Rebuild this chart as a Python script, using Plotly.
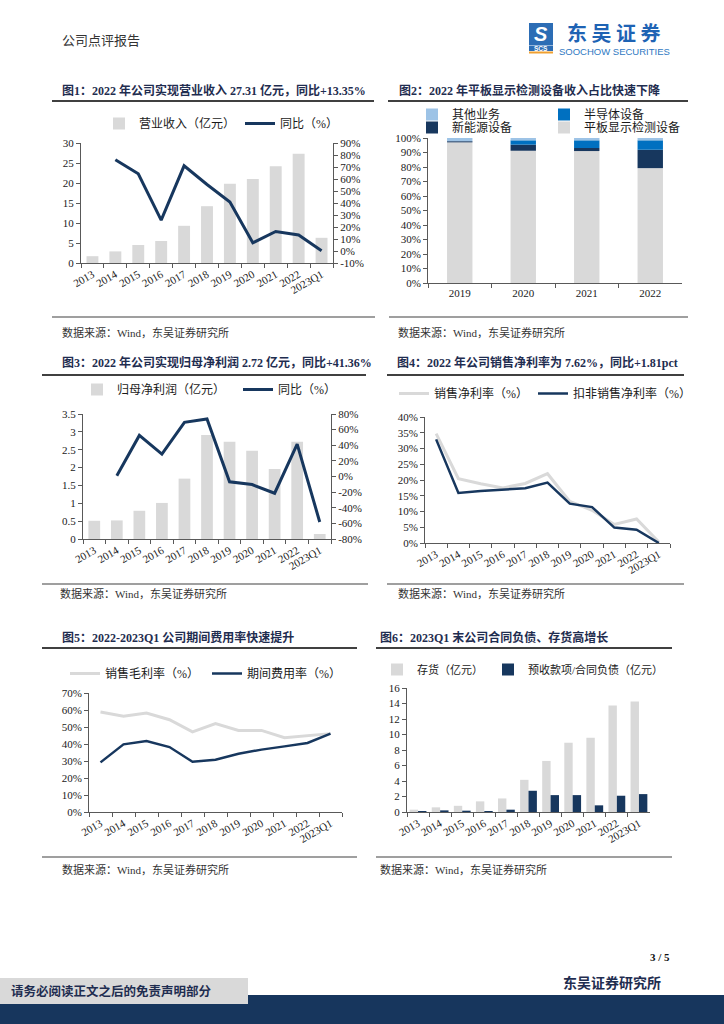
import numpy as np
import plotly.graph_objects as go

W, H = 724, 1024


def fx(px):
    return px / W


def fy(py):
    return 1 - py / H


# ---------------- data ----------------
years11 = ["2013", "2014", "2015", "2016", "2017", "2018", "2019", "2020", "2021", "2022", "2023Q1"]
years4 = ["2019", "2020", "2021", "2022"]

revenue = [1.7, 2.9, 4.5, 5.5, 9.3, 14.2, 19.8, 21.0, 24.2, 27.31, 6.3]
revenue_yoy = [None, 76.0, 64.3, 25.7, 71.0, 55.4, 40.8, 6.8, 16.3, 13.35, 0.3]

share_flat = [97.0, 91.2, 91.0, 79.2]
share_newenergy = [0.8, 4.2, 2.1, 12.7]
share_semi = [0.0, 3.0, 5.3, 6.5]
share_other = [2.2, 1.6, 1.6, 1.6]

net_profit = [0.51, 0.52, 0.79, 1.01, 1.69, 2.91, 2.72, 2.47, 1.96, 2.72, 0.14]
net_profit_yoy = [None, 0.9, 52.6, 28.7, 69.3, 73.6, -6.8, -10.3, -21.4, 41.36, -58.2]

net_margin = [34.7, 20.4, 18.8, 17.5, 18.9, 22.0, 13.2, 10.4, 5.9, 7.62, 0.3]
net_margin_adj = [32.9, 15.9, 16.5, 16.9, 17.4, 19.2, 12.5, 11.4, 4.9, 4.2, 0.0]

gross_margin = [58.8, 56.3, 58.2, 54.3, 47.1, 52.0, 48.0, 48.0, 43.7, 45.1, 46.1]
expense_ratio = [29.2, 39.8, 41.8, 38.2, 29.6, 30.8, 34.3, 36.7, 38.6, 40.6, 46.1]

inventory = [0.3, 0.6, 0.8, 1.37, 1.75, 4.15, 6.59, 8.94, 9.58, 13.73, 14.25]
contract_liab = [0.13, 0.21, 0.17, 0.13, 0.3, 2.74, 2.18, 2.18, 0.86, 2.1, 2.31]

# tick labels
rev_ticks = [0, 5, 10, 15, 20, 25, 30]
rev_yoy_ticks = [-10, 0, 10, 20, 30, 40, 50, 60, 70, 80, 90]
rev_yoy_text = ["-10%", "0%", "10%", "20%", "30%", "40%", "50%", "60%", "70%", "80%", "90%"]
share_ticks = [0, 10, 20, 30, 40, 50, 60, 70, 80, 90, 100]
share_text = ["0%", "10%", "20%", "30%", "40%", "50%", "60%", "70%", "80%", "90%", "100%"]
np_ticks = [0, 0.5, 1, 1.5, 2, 2.5, 3, 3.5]
np_text = ["0", "0.5", "1", "1.5", "2", "2.5", "3", "3.5"]
np_yoy_ticks = [-80, -60, -40, -20, 0, 20, 40, 60, 80]
np_yoy_text = ["-80%", "-60%", "-40%", "-20%", "0%", "20%", "40%", "60%", "80%"]
margin_ticks = [0, 5, 10, 15, 20, 25, 30, 35, 40]
margin_text = ["0%", "5%", "10%", "15%", "20%", "25%", "30%", "35%", "40%"]
gm_ticks = [0, 10, 20, 30, 40, 50, 60, 70]
gm_text = ["0%", "10%", "20%", "30%", "40%", "50%", "60%", "70%"]
inv_ticks = [0, 2, 4, 6, 8, 10, 12, 14, 16]

# ---------------- style ----------------
SERIF = "Liberation Serif, Noto Sans CJK SC"
GRAY = "#D9D9D9"
NAVY = "#17375E"
BLUE = "#0070C0"
LBLUE = "#9DC3E6"
AXC = "#595959"
TXT = "#1a1a1a"
TITLE_C = "#1F2D50"

AX = dict(showline=True, linecolor=AXC, linewidth=1, ticks="outside", ticklen=4,
          tickcolor=AXC, tickwidth=1, showgrid=False, zeroline=False, fixedrange=True,
          tickfont=dict(family=SERIF, size=11, color=TXT))

fig = go.Figure()

# ---- chart 1 ----
fig.add_trace(go.Bar(x=years11, y=revenue, width=0.52, marker=dict(color=GRAY, line=dict(width=0)),
                     name="营业收入（亿元）", xaxis="x", yaxis="y", legend="legend", legendwidth=96))
fig.add_trace(go.Scatter(x=years11, y=revenue_yoy, mode="lines", line=dict(color=NAVY, width=3),
                         name="同比（%）", xaxis="x", yaxis="y2", legend="legend", legendwidth=70))

# ---- chart 2 (stacked shares) ----
layers = [("平板显示检测设备", share_flat, GRAY, "legend3", 100),
          ("新能源设备", share_newenergy, NAVY, "legend3", 87),
          ("半导体设备", share_semi, BLUE, "legend2", 70),
          ("其他业务", share_other, LBLUE, "legend2", 87)]
base = np.zeros(len(years4))
for name, vals, col, lg, lw in layers:
    fig.add_trace(go.Bar(x=years4, y=vals, base=base.copy(), width=0.4,
                         marker=dict(color=col, line=dict(width=0)), name=name,
                         xaxis="x2", yaxis="y3", legend=lg, legendwidth=lw))
    base = base + np.array(vals)

# ---- chart 3 ----
fig.add_trace(go.Bar(x=years11, y=net_profit, width=0.52, marker=dict(color=GRAY, line=dict(width=0)),
                     name="归母净利润（亿元）", xaxis="x3", yaxis="y4", legend="legend4", legendwidth=116))
fig.add_trace(go.Scatter(x=years11, y=net_profit_yoy, mode="lines", line=dict(color=NAVY, width=3),
                         name="同比（%）", xaxis="x3", yaxis="y5", legend="legend4", legendwidth=70))

# ---- chart 4 ----
fig.add_trace(go.Scatter(x=years11, y=net_margin, mode="lines", line=dict(color=GRAY, width=3),
                         name="销售净利率（%）", xaxis="x4", yaxis="y6", legend="legend5", legendwidth=94))
fig.add_trace(go.Scatter(x=years11, y=net_margin_adj, mode="lines", line=dict(color=NAVY, width=2.5),
                         name="扣非销售净利率（%）", xaxis="x4", yaxis="y6", legend="legend5", legendwidth=122))

# ---- chart 5 ----
fig.add_trace(go.Scatter(x=years11, y=gross_margin, mode="lines", line=dict(color=GRAY, width=3),
                         name="销售毛利率（%）", xaxis="x5", yaxis="y7", legend="legend6", legendwidth=97))
fig.add_trace(go.Scatter(x=years11, y=expense_ratio, mode="lines", line=dict(color=NAVY, width=2.5),
                         name="期间费用率（%）", xaxis="x5", yaxis="y7", legend="legend6", legendwidth=100))

# ---- chart 6 ----
fig.add_trace(go.Bar(x=years11, y=inventory, width=0.38, offset=-0.38,
                     marker=dict(color=GRAY, line=dict(width=0)), name="存货（亿元）",
                     xaxis="x6", yaxis="y8", legend="legend7", legendwidth=66))
fig.add_trace(go.Bar(x=years11, y=contract_liab, width=0.38, offset=0.0,
                     marker=dict(color=NAVY, line=dict(width=0)), name="预收款项/合同负债（亿元）",
                     xaxis="x6", yaxis="y8", legend="legend7", legendwidth=132))


def xcat(x0, x1, anchor, n, angle=-30):
    d = dict(AX)
    d.update(domain=[fx(x0), fx(x1)], anchor=anchor, type="category", tickson="boundaries",
             tickangle=angle, range=[-0.5, n - 0.5])
    return d


def ylin(y_top, y_bot, anchor, rng, tv, tt=None, **kw):
    d = dict(AX)
    d.update(domain=[fy(y_bot), fy(y_top)], anchor=anchor, range=rng, tickmode="array",
             tickvals=tv, ticktext=tt if tt is not None else [str(v) for v in tv])
    d.update(kw)
    return d


def legend_cfg(sym_x, y_px, size=12, order="normal"):
    return dict(x=fx(sym_x - 20), y=fy(y_px + 0.5), xanchor="left", yanchor="middle", orientation="h",
                bgcolor="rgba(0,0,0,0)", font=dict(family=SERIF, size=size, color=TXT),
                traceorder=order, itemclick=False, itemdoubleclick=False)


fig.update_layout(
    width=W, height=H, autosize=False, margin=dict(l=0, r=0, t=0, b=0, pad=0, autoexpand=False),
    paper_bgcolor="white", plot_bgcolor="white", barmode="overlay", showlegend=True,
    font=dict(family=SERIF, size=11, color=TXT), hovermode=False,
    # chart 1
    xaxis=xcat(81, 333, "y", 11),
    yaxis=ylin(143, 263, "x", [0, 30], rev_ticks),
    yaxis2=ylin(143, 263, "x", [-10, 90], rev_yoy_ticks, rev_yoy_text, overlaying="y", side="right"),
    # chart 2
    xaxis2=xcat(428, 682, "y3", 4, angle=0),
    yaxis3=ylin(138, 283, "x2", [0, 100], share_ticks, share_text),
    # chart 3
    xaxis3=xcat(83, 331, "y4", 11),
    yaxis4=ylin(414, 539, "x3", [0, 3.5], np_ticks, np_text),
    yaxis5=ylin(414, 539, "x3", [-80, 80], np_yoy_ticks, np_yoy_text, overlaying="y4", side="right"),
    # chart 4
    xaxis4=xcat(425, 670, "y6", 11),
    yaxis6=ylin(417, 543, "x4", [0, 40], margin_ticks, margin_text),
    # chart 5
    xaxis5=xcat(89, 342, "y7", 11),
    yaxis7=ylin(693, 812, "x5", [0, 70], gm_ticks, gm_text),
    # chart 6
    xaxis6=xcat(407, 650, "y8", 11),
    yaxis8=ylin(688, 812, "x6", [0, 16], inv_ticks),
    legend=legend_cfg(119, 123),
    legend2=legend_cfg(432, 114, order="reversed"),
    legend3=legend_cfg(432, 127, order="reversed"),
    legend4=legend_cfg(97, 389),
    legend5=legend_cfg(414, 393),
    legend6=legend_cfg(85, 673),
    legend7=legend_cfg(397, 669, size=11),
)

shapes = []


def hline(x0, x1, y, w, c="#404040"):
    shapes.append(dict(type="line", xref="paper", yref="paper", x0=fx(x0), x1=fx(x1),
                       y0=fy(y), y1=fy(y), line=dict(color=c, width=w)))


def rect(x0, y0, x1, y1, c):
    shapes.append(dict(type="rect", xref="paper", yref="paper", x0=fx(x0), x1=fx(x1),
                       y0=fy(y1), y1=fy(y0), fillcolor=c, line=dict(width=0), layer="below"))


# title underlines
for x0, x1, y in [(52, 374, 101), (388, 688, 101), (42, 366, 375), (387, 684, 375),
                  (42, 357, 648), (376, 672, 648)]:
    hline(x0, x1, y, 2.2)
# source separators
for x0, x1, y in [(52, 375, 317), (389, 688, 317), (42, 368, 584), (387, 684, 584),
                  (42, 357, 857), (376, 672, 857)]:
    hline(x0, x1, y, 1.2)

# footer
rect(0, 995, 724, 1024, "#17365D")
rect(0, 978, 248, 1004, "#D9D9D9")
# logo
rect(529, 23, 553, 45, "#2C6DB5")
rect(529, 45.5, 553, 51, "#2C6DB5")
rect(529, 51.5, 553, 53.5, "#F0A030")

fig.update_layout(shapes=shapes)

ann = []


def text(x, y, s, size=11, color=TXT, bold=False, xanchor="left", family=SERIF):
    ann.append(dict(xref="paper", yref="paper", x=fx(x), y=fy(y), xanchor=xanchor, yanchor="middle",
                    text=f"<b>{s}</b>" if bold else s, showarrow=False,
                    font=dict(family=family, size=size, color=color)))


text(60, 40, "公司点评报告", 13, "#333333")
text(541, 34, "<i>S</i>", 20, "white", True, "center", "Liberation Sans")
text(541, 48.5, "SCS", 6.5, "white", True, "center", "Liberation Sans")
text(614, 32, "东 吴 证 券", 20, "#1E63B4", True, "center", "Noto Sans CJK SC")
text(614, 51.5, "SOOCHOW SECURITIES", 9.5, "#2E78C2", False, "center", "Liberation Sans")

text(60, 90, "图1：2022 年公司实现营业收入 27.31 亿元，同比+13.35%", 12, TITLE_C, True)
text(397, 90, "图2：2022 年平板显示检测设备收入占比快速下降", 12, TITLE_C, True)
text(60, 362, "图3：2022 年公司实现归母净利润 2.72 亿元，同比+41.36%", 12, TITLE_C, True)
text(395, 362, "图4：2022 年公司销售净利率为 7.62%，同比+1.81pct", 12, TITLE_C, True)
text(60, 637, "图5：2022-2023Q1 公司期间费用率快速提升", 12, TITLE_C, True)
text(378, 637, "图6：2023Q1 末公司合同负债、存货高增长", 12, TITLE_C, True)

src = "数据来源：Wind，东吴证券研究所"
for x, y in [(60, 332), (396, 332), (58, 593), (396, 593), (60, 869), (378, 869)]:
    text(x, y, src, 11, "#333333")

text(672, 957, "3 / 5", 11, "#111111", True, "right")
text(663, 983, "东吴证券研究所", 14, "#1F2D50", True, "right")
text(9, 991, "请务必阅读正文之后的免责声明部分", 12.5, "#1F2D50", True)

fig.update_layout(annotations=ann)

fig.write_html("out.html", config=dict(displayModeBar=False, staticPlot=True),
               post_script="document.body.style.margin='0';document.body.style.overflow='hidden';")
